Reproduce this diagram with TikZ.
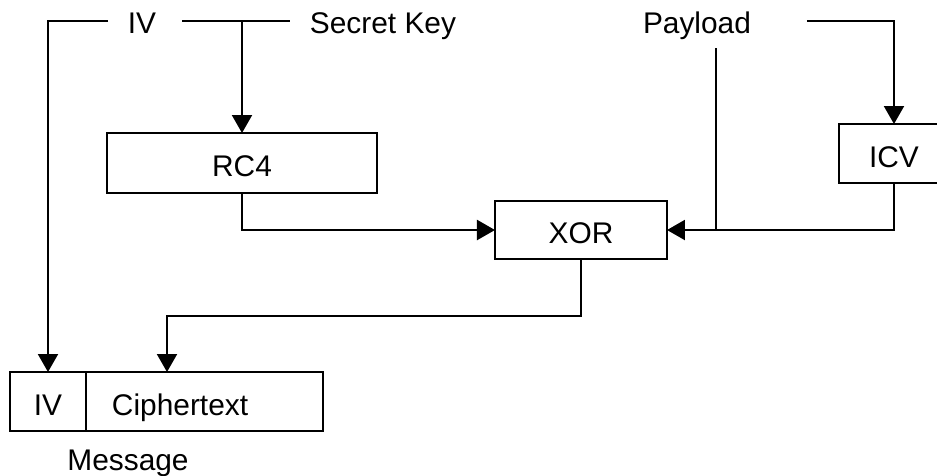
\documentclass[tikz,border=0pt]{standalone}
\usepackage{fontspec}
\setmainfont{Liberation Sans}
\usetikzlibrary{arrows.meta, positioning}

\begin{document}
\begin{tikzpicture}[font=\fontsize{8.5}{10}\selectfont,
  blk/.style={draw, line width=0.8pt, inner sep=0pt, outer sep=0pt,
    text height=2.75mm, text depth=0pt},
  lbl/.style={anchor=base, inner sep=0pt},
  arr/.style={line width=0.6pt, -{Triangle[length=1.8mm, width=2mm]}},
  ln/.style={line width=0.6pt}]
\useasboundingbox (0,0) rectangle (9.37,-4.75);
% labels on top
\node[lbl] (iv) at (1.42,-0.33) {IV};
\node[lbl] (key) at (3.83,-0.33) {Secret Key};
\node[lbl] (pay) at (6.97,-0.33) {Payload};
\coordinate (ivl) at (1.08,-0.21);
\coordinate (ivr) at (1.82,-0.21);
\coordinate (keyl) at (2.90,-0.21);
\coordinate (kj) at (2.42,-0.21);
\coordinate (payd) at (7.16,-0.48);
\coordinate (payr) at (8.07,-0.21);
% boxes
\node[blk, minimum width=2.70cm, minimum height=0.60cm] (rc4) at (2.42,-1.63) {RC4};
\node[blk, minimum width=1.72cm, minimum height=0.58cm] (xor) at (5.81,-2.30) {XOR};
\node[blk, minimum width=1.10cm, minimum height=0.59cm] (icv) at (8.94,-1.535) {ICV};
\node[blk, minimum width=0.76cm, minimum height=0.59cm] (civ) at (0.48,-4.015) {IV};
\node[blk, right=0pt of civ, minimum height=0.59cm, inner xsep=0.26cm,
      text width=1.85cm, align=left] (ct) {Ciphertext};
\node[lbl] (msg) at (1.28,-4.70) {Message};
\coordinate (ctin) at (1.67,-3.72);
% connectors
\draw[arr] (ivl) -| (civ.north);
\draw[ln] (ivr) -- (keyl);
\draw[arr] (kj) -- (rc4.north);
\draw[arr] (rc4.south) |- (xor.west);
\draw[arr] (payr) -| (icv.north);
\draw[arr] (icv.south) |- (xor.east);
\draw[ln] (payd) -- (payd |- xor.east);
\draw[arr] (xor.south) -- ++(0,-0.57) -| (ctin);
\end{tikzpicture}
\end{document}
